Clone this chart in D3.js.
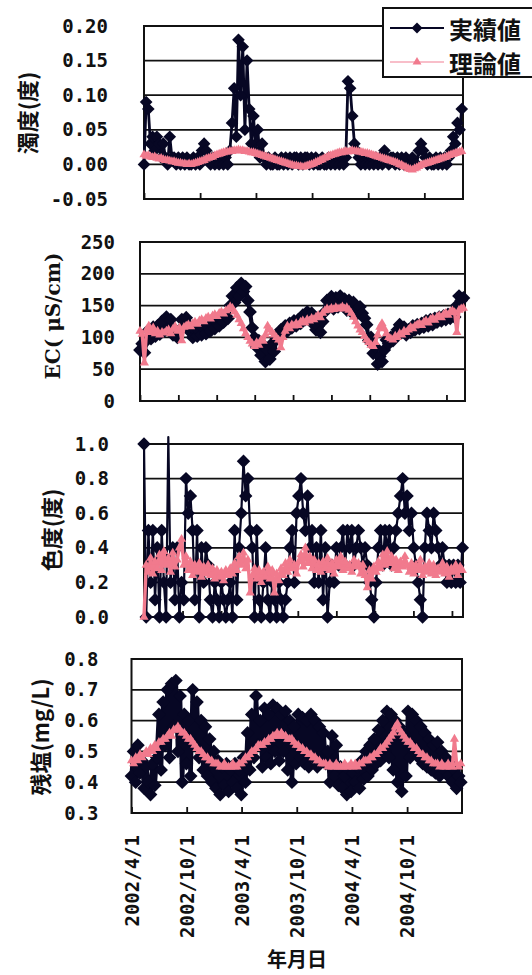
<!DOCTYPE html>
<html>
<head>
<meta charset="utf-8">
<script src="https://cdn.jsdelivr.net/npm/d3@7"></script>
<style>
  body { margin: 0; background: #fff; }
  svg { display: block; }
</style>
</head>
<body>
<svg id="chart" width="532" height="975"></svg>
<script>
// ---- data: weekly samples starting 2002/4/1 ----
const startLabel = "2002/4/1";
const stepDays = 7;

const turbidityActual = [
  0.00, 0.09, 0.08, 0.03, 0.04, 0.02, 0.04, 0.03, 0.01, 0.03, 0.01, 0.00, 0.04, 0.01, 0.01, 0.00,
  0.01, 0.00, 0.01, 0.00, 0.01, 0.00, 0.00, 0.01, 0.00, 0.01, 0.00, 0.02, 0.03, 0.02, 0.01, 0.00,
  0.01, 0.00, 0.01, 0.00, 0.01, 0.00, 0.01, 0.00, 0.02,
  0.06, 0.11, 0.04, 0.18, 0.10, 0.17, 0.05, 0.15, 0.08, 0.03, 0.07, 0.02, 0.05, 0.01, 0.03,
  0.01, 0.00, 0.01, 0.00, 0.00, 0.01, 0.00, 0.00, 0.01, 0.00, 0.01, 0.00, 0.01, 0.00, 0.01,
  0.01, 0.00, 0.01, 0.00, 0.01, 0.01, 0.00, 0.01, 0.00, 0.01, 0.00, 0.00, 0.01, 0.00,
  0.00, 0.01, 0.00, 0.01, 0.00, 0.01, 0.00, 0.01, 0.00, 0.01,
  0.12, 0.11, 0.07, 0.03,
  0.02, 0.01, 0.00, 0.01, 0.00, 0.01, 0.00, 0.01, 0.00, 0.01, 0.00, 0.01, 0.00,
  0.02, 0.01, 0.00, 0.01, 0.01, 0.00, 0.01, 0.00, 0.01, 0.00, 0.01, 0.00, 0.00, 0.01, 0.00, 0.00,
  0.02, 0.03, 0.02, 0.01, 0.00, 0.01, 0.00, 0.00, 0.01, 0.00, 0.01, 0.00, 0.01, 0.00, 0.01, 0.02,
  0.04, 0.03, 0.06, 0.05, 0.08
];
const turbidityTheory = [
  0.014, 0.012, 0.013, 0.011, 0.010, 0.011, 0.009, 0.008, 0.009, 0.007, 0.006,
  0.006, 0.005, 0.004, 0.004, 0.003, 0.002, 0.002, 0.001, 0.001, 0.000,
  0.001, 0.000, 0.001, 0.002, 0.003, 0.004, 0.005, 0.006, 0.008, 0.009,
  0.010, 0.011, 0.013, 0.014, 0.015, 0.016, 0.017, 0.018, 0.018, 0.019,
  0.019, 0.020, 0.020, 0.021, 0.020, 0.020, 0.019, 0.019, 0.018, 0.017,
  0.017, 0.016, 0.015, 0.014, 0.013, 0.012, 0.011, 0.010, 0.009, 0.008,
  0.007, 0.006, 0.005, 0.004, 0.003, 0.002, 0.001, 0.000, -0.001, -0.002,
  -0.002, -0.003, -0.003, -0.004, -0.003, -0.002, -0.001, 0.000, 0.001, 0.003,
  0.004, 0.006, 0.007, 0.009, 0.010, 0.012, 0.013, 0.014, 0.015, 0.016,
  0.017, 0.017, 0.018, 0.019, 0.018, 0.019, 0.020, 0.019, 0.019, 0.018,
  0.018, 0.017, 0.016, 0.016, 0.015, 0.014, 0.013, 0.012, 0.011, 0.010,
  0.009, 0.008, 0.007, 0.006, 0.005, 0.004, 0.003, 0.002, 0.000, -0.001,
  -0.003, -0.004, -0.006, -0.007, -0.008, -0.006, -0.005, -0.003, -0.001, 0.000,
  0.001, 0.002, 0.003, 0.004, 0.005, 0.006, 0.007, 0.008, 0.009, 0.010,
  0.011, 0.013, 0.014, 0.015, 0.016, 0.017, 0.018, 0.019
];

const ecActual = [
  80, 90, 76, 95,
  112, 98, 116, 102, 118, 105,
  125, 110, 132, 115, 128,
  104, 112, 100, 110,
  128, 118, 131, 120,
  108, 100, 112, 102, 110, 104, 114, 106,
  116, 110, 120, 114, 124, 118, 128, 124, 134, 130,
  150, 165, 155, 178, 165, 185, 172, 180, 158,
  140, 115, 100, 85, 95, 72, 88, 62,
  80, 66, 90, 78, 98,
  104, 112, 106, 118, 110, 122, 115, 126, 118, 128, 122,
  135, 128, 140, 132, 138,
  120, 112, 118, 108, 125,
  140, 158, 150, 164, 145, 162, 148, 165, 150, 160, 143, 158, 140, 155, 135,
  145, 148, 138, 130,
  120, 95, 100, 75, 85, 58, 70, 62,
  80, 96, 90, 100, 95, 104,
  112, 120, 108, 116, 104, 112, 108, 118, 112, 120, 114, 122,
  116, 126, 118, 128, 120, 130, 124, 132, 126, 134, 128, 136, 130, 138, 132,
  150, 165, 158, 162
];
const ecTheory = [
  110, 105, 60, 112, 118, 108, 115, 106, 110, 104, 108,
  107, 110, 112, 106, 113, 117, 110, 115, 95, 116,
  118, 120, 117, 122, 124, 121, 126, 128, 125, 130,
  132, 129, 134, 136, 133, 138, 140, 137, 142, 144,
  148, 146, 140, 135, 128,
  122, 114, 106, 100, 94, 90, 86, 92, 88, 96, 94, 104, 118, 112, 108,
  104, 100, 96, 84, 100, 110, 118, 114, 120, 118,
  122, 119, 124, 126, 123, 128, 126, 130, 128, 132,
  135, 131, 138, 142, 145, 143, 146, 144, 147, 145,
  146, 148, 145, 147, 143, 138, 132, 125, 118, 112,
  108, 102, 96, 92, 88, 86, 92, 104, 116, 122,
  114, 106, 100, 98, 96, 102, 100, 106, 104, 110,
  108, 112, 116, 114, 118, 120, 122, 119, 124, 126,
  123, 128, 130, 127, 132, 134, 131, 136, 138, 135,
  140, 142, 139, 108, 143, 145, 146
];

const colorActual = [
  1.0, 0.0, 0.5, 0.2, 0.5, 0.1, 0.4, 0.0, 0.5, 0.2, 0.0,
  1.04, 0.2,
  0.4, 0.1, 0.4, 0.0, 0.2, 0.1, 0.8, 0.6, 0.7, 0.5,
  0.1, 0.5, 0.0, 0.4, 0.2, 0.4, 0.3, 0.1, 0.0, 0.2,
  0.1, 0.0, 0.2, 0.1, 0.0, 0.1, 0.2, 0.0,
  0.5, 0.1, 0.4, 0.6, 0.9, 0.7, 0.8, 0.5, 0.4,
  0.0, 0.5, 0.1, 0.0, 0.2, 0.4, 0.1, 0.0, 0.2, 0.1, 0.0, 0.2, 0.1, 0.0, 0.1, 0.2,
  0.4, 0.5, 0.2, 0.6, 0.7, 0.8, 0.6, 0.5, 0.7, 0.4, 0.5, 0.2, 0.4, 0.2,
  0.5, 0.1, 0.4, 0.0, 0.2, 0.3, 0.2, 0.4, 0.3, 0.4,
  0.5, 0.3, 0.5, 0.4, 0.5, 0.3, 0.4, 0.5, 0.4, 0.3,
  0.4, 0.3, 0.2, 0.1, 0.0, 0.2, 0.4, 0.5, 0.3, 0.5,
  0.4, 0.5, 0.3, 0.4, 0.5, 0.6, 0.7, 0.8, 0.6, 0.7,
  0.5, 0.6, 0.4, 0.3, 0.2, 0.1, 0.0, 0.4, 0.6, 0.5,
  0.4, 0.6, 0.5, 0.4, 0.3, 0.4, 0.3, 0.2, 0.3, 0.2,
  0.3, 0.2, 0.3, 0.2, 0.4
];
const colorTheory = [
  0.00, 0.30, 0.26, 0.34, 0.25, 0.32, 0.28, 0.36, 0.27, 0.38,
  0.30, 0.34, 0.26, 0.37, 0.29, 0.33, 0.40, 0.45, 0.30, 0.35,
  0.27, 0.32, 0.24, 0.30, 0.26, 0.31, 0.23, 0.29, 0.25, 0.30,
  0.24, 0.28, 0.22, 0.27, 0.23, 0.26, 0.21, 0.27, 0.24, 0.28,
  0.25, 0.31, 0.27, 0.35, 0.30, 0.37, 0.28, 0.33, 0.14, 0.24,
  0.28, 0.22, 0.27, 0.20, 0.26, 0.23, 0.29, 0.22, 0.27, 0.14,
  0.25, 0.21, 0.28, 0.24, 0.31, 0.26, 0.33, 0.28, 0.30, 0.25,
  0.32, 0.36, 0.29, 0.40, 0.31, 0.35, 0.28, 0.33, 0.27, 0.31,
  0.26, 0.32, 0.28, 0.34, 0.27, 0.31, 0.25, 0.33, 0.29, 0.35,
  0.27, 0.32, 0.28, 0.30, 0.26, 0.33, 0.29, 0.31, 0.25, 0.30,
  0.24, 0.17, 0.27, 0.22, 0.29, 0.26, 0.32, 0.28, 0.36, 0.30,
  0.38, 0.31, 0.35, 0.28, 0.33, 0.27, 0.32, 0.29, 0.35, 0.30,
  0.26, 0.31, 0.25, 0.30, 0.27, 0.33, 0.24, 0.29, 0.26, 0.31,
  0.25, 0.30, 0.24, 0.28, 0.26, 0.31, 0.25, 0.29, 0.23, 0.28,
  0.26, 0.30, 0.24, 0.29, 0.27
];

const chlorineActual = [
  0.42, 0.50, 0.40, 0.52, 0.43, 0.47, 0.38, 0.45, 0.40, 0.36, 0.46, 0.39, 0.48,
  0.62, 0.44, 0.66, 0.52, 0.70, 0.48, 0.72, 0.58, 0.73, 0.50,
  0.68, 0.40, 0.62, 0.46, 0.60, 0.42, 0.70, 0.52, 0.66, 0.48,
  0.60, 0.44, 0.58, 0.42, 0.54, 0.40, 0.50, 0.38,
  0.47, 0.36, 0.45, 0.39, 0.46, 0.37, 0.44, 0.40, 0.46, 0.38, 0.44, 0.36, 0.48, 0.40,
  0.56, 0.44, 0.62, 0.48, 0.68, 0.52, 0.60, 0.45, 0.64, 0.48,
  0.62, 0.46, 0.65, 0.50, 0.64, 0.47, 0.62, 0.50, 0.63, 0.44,
  0.60, 0.40, 0.58, 0.46, 0.62, 0.48, 0.61, 0.46, 0.60, 0.45,
  0.62, 0.48, 0.60, 0.45, 0.58, 0.47, 0.56, 0.46,
  0.50, 0.40, 0.55, 0.42, 0.52, 0.39, 0.45, 0.38, 0.42, 0.36,
  0.44, 0.37, 0.43, 0.40, 0.45, 0.38, 0.47, 0.41, 0.50, 0.42,
  0.52, 0.44, 0.54, 0.46, 0.57, 0.47, 0.60, 0.50,
  0.63, 0.48, 0.62, 0.44, 0.60, 0.40, 0.58, 0.37, 0.56, 0.42,
  0.63, 0.48, 0.62, 0.50, 0.60, 0.48, 0.58, 0.46, 0.56, 0.45,
  0.54, 0.44, 0.52, 0.43, 0.53, 0.42, 0.50, 0.44, 0.48, 0.42,
  0.46, 0.40, 0.44, 0.38, 0.42, 0.40
];
const chlorineTheory = [
  0.47, 0.46, 0.48, 0.47, 0.49, 0.48, 0.49, 0.50, 0.49, 0.51, 0.50,
  0.52, 0.51, 0.53, 0.53, 0.54, 0.54, 0.55, 0.56, 0.55, 0.57,
  0.57, 0.58, 0.57, 0.56, 0.56, 0.55, 0.54, 0.54, 0.53, 0.52,
  0.51, 0.50, 0.50, 0.49, 0.48, 0.48, 0.47, 0.47, 0.46, 0.46,
  0.46, 0.45, 0.45, 0.46, 0.45, 0.45, 0.45, 0.46, 0.45, 0.45,
  0.46, 0.46, 0.47, 0.48, 0.48, 0.49, 0.50, 0.50, 0.51, 0.52,
  0.52, 0.52, 0.53, 0.53, 0.54, 0.54, 0.55, 0.55, 0.56, 0.55,
  0.56, 0.55, 0.55, 0.54, 0.54, 0.54, 0.53, 0.52, 0.52, 0.51,
  0.51, 0.50, 0.50, 0.49, 0.49, 0.48, 0.48, 0.47, 0.47, 0.46,
  0.46, 0.46, 0.45, 0.46, 0.45, 0.45, 0.46, 0.45, 0.45, 0.45,
  0.46, 0.45, 0.45, 0.46, 0.45, 0.46, 0.45, 0.46, 0.46, 0.47,
  0.47, 0.47, 0.48, 0.48, 0.49, 0.49, 0.50, 0.51, 0.51, 0.52,
  0.53, 0.54, 0.55, 0.56, 0.58, 0.59, 0.57, 0.56, 0.55, 0.54,
  0.53, 0.53, 0.52, 0.51, 0.51, 0.50, 0.49, 0.49, 0.48, 0.48,
  0.47, 0.47, 0.46, 0.46, 0.46, 0.45, 0.46, 0.45, 0.45, 0.46,
  0.45, 0.45, 0.54, 0.46, 0.45, 0.46
];

// value-axis ticks
const turbidityTicks = [-0.05, 0.00, 0.05, 0.10, 0.15, 0.20];
const ecTicks = [0, 50, 100, 150, 200, 250];
const colorTicks = [0.0, 0.2, 0.4, 0.6, 0.8, 1.0];
const chlorineTicks = [0.3, 0.4, 0.5, 0.6, 0.7, 0.8];

// date-axis ticks
const halfYearTicks = ["2002/4/1", "2002/10/1", "2003/4/1", "2003/10/1", "2004/4/1", "2004/10/1"];
const fourMonthTicks = ["2002/4/1", "2002/8/1", "2002/12/1", "2003/4/1", "2003/8/1",
                        "2003/12/1", "2004/4/1", "2004/8/1", "2004/12/1"];

const seriesNames = ["実績値", "理論値"];
const xTitle = "年月日";

// ---- drawing ----
const parseDate = d3.timeParse("%Y/%m/%d");
const startDate = parseDate(startLabel);

const ACTUAL = "#070724";
const THEORY = "#f17a8d";
const INK = "#111";
const monoFont = "'DejaVu Sans Mono', monospace";
const cjkFont = "'Noto Sans CJK JP', sans-serif";

const svg = d3.select("#chart");

const panels = [
  { actual: turbidityActual, theory: turbidityTheory, yTicks: turbidityTicks,
    fmt: v => v.toFixed(2), title: "濁度(度)", titleFont: cjkFont, titleSize: 22, titleWeight: 700,
    left: 144, right: 463, top: 26, bottom: 199, end: "2005/2/4", xTicks: halfYearTicks,
    titleX: 26, titleY: 113, gap: 36, dates: false, lineW: 2.8, markSize: 80 },
  { actual: ecActual, theory: ecTheory, yTicks: ecTicks,
    fmt: v => String(v), title: "EC( μS/cm)", titleFont: "'DejaVu Serif', serif", titleSize: 20, titleWeight: 700,
    left: 140, right: 465, top: 242, bottom: 401, end: "2005/1/29", xTicks: fourMonthTicks,
    titleX: 53, titleY: 316, gap: 25, dates: false, lineW: 4.2, markSize: 95 },
  { actual: colorActual, theory: colorTheory, yTicks: colorTicks,
    fmt: v => v.toFixed(1), title: "色度(度)", titleFont: cjkFont, titleSize: 22, titleWeight: 700,
    left: 144, right: 463, top: 444, bottom: 617, end: "2005/1/5", xTicks: fourMonthTicks,
    titleX: 50, titleY: 530, gap: 35, dates: false, lineW: 2.2, markSize: 90 },
  { actual: chlorineActual, theory: chlorineTheory, yTicks: chlorineTicks,
    fmt: v => v.toFixed(1), title: "残塩(mg/L)", titleFont: cjkFont, titleSize: 22, titleWeight: 700,
    left: 131.5, right: 462, top: 659, bottom: 813, end: "2005/4/1", xTicks: halfYearTicks,
    titleX: 39, titleY: 737, gap: 33, dates: true, lineW: 4.4, markSize: 95 }
];

const triangle = d3.symbol(d3.symbolTriangle, 36);

panels.forEach(p => {
  const g = svg.append("g");
  const x = d3.scaleTime().domain([startDate, parseDate(p.end)]).range([p.left, p.right]);
  const [yMin, yMax] = d3.extent(p.yTicks);
  const y = d3.scaleLinear().domain([yMin, yMax]).range([p.bottom, p.top]);

  // horizontal gridlines
  g.append("g").selectAll("line").data(p.yTicks).join("line")
    .attr("x1", p.left).attr("x2", p.right)
    .attr("y1", d => y(d)).attr("y2", d => y(d))
    .attr("stroke", INK).attr("stroke-width", 1.8);

  // plot frame
  g.append("rect")
    .attr("x", p.left).attr("y", p.top)
    .attr("width", p.right - p.left).attr("height", p.bottom - p.top)
    .attr("fill", "none").attr("stroke", INK).attr("stroke-width", 2);

  // value axis
  g.append("g").attr("transform", `translate(${p.left},0)`)
    .call(d3.axisLeft(y).tickValues(p.yTicks).tickFormat(p.fmt).tickSize(0).tickPadding(p.gap))
    .call(a => a.select(".domain").remove())
    .selectAll("text")
    .attr("font-family", monoFont).attr("font-weight", 700).attr("font-size", 19)
    .attr("fill", INK);

  // date axis (ticks point into the plot)
  const tickDates = p.xTicks.map(parseDate);
  const xAxis = g.append("g").attr("transform", `translate(0,${p.bottom})`)
    .call(d3.axisBottom(x).tickValues(tickDates).tickSizeInner(-6).tickSizeOuter(0)
      .tickFormat((d, i) => p.dates ? p.xTicks[i] : ""));
  xAxis.select(".domain").remove();
  xAxis.selectAll("line").attr("stroke", INK).attr("stroke-width", 1.8);
  if (p.dates) {
    xAxis.selectAll("text")
      .attr("transform", "rotate(-90)")
      .attr("text-anchor", "end")
      .attr("x", -22).attr("y", 0).attr("dy", "0.35em")
      .attr("font-family", monoFont).attr("font-weight", 700).attr("font-size", 19)
      .attr("fill", INK);
  }

  // axis title
  svg.append("text")
    .attr("transform", `translate(${p.titleX},${p.titleY}) rotate(-90)`)
    .attr("text-anchor", "middle").attr("dominant-baseline", "central")
    .attr("font-family", p.titleFont).attr("font-weight", p.titleWeight)
    .attr("font-size", p.titleSize).attr("fill", INK)
    .text(p.title);

  const toPoints = arr => arr.map((v, i) => ({ date: d3.timeDay.offset(startDate, i * stepDays), v }));
  const line = d3.line().x(d => x(d.date)).y(d => y(d.v));
  const diamond = d3.symbol(d3.symbolSquare, p.markSize);

  // measured series
  const act = toPoints(p.actual);
  g.append("path").datum(act).attr("d", line)
    .attr("fill", "none").attr("stroke", ACTUAL).attr("stroke-width", p.lineW)
    .attr("stroke-linejoin", "round");
  g.append("g").selectAll("path").data(act.filter(d => d.v <= yMax)).join("path")
    .attr("transform", d => `translate(${x(d.date)},${y(d.v)}) rotate(45)`)
    .attr("d", diamond).attr("fill", ACTUAL);

  // theoretical series
  const th = toPoints(p.theory);
  g.append("path").datum(th).attr("d", line)
    .attr("fill", "none").attr("stroke", THEORY).attr("stroke-width", 3.4)
    .attr("stroke-linejoin", "round");
  g.append("g").selectAll("path").data(th).join("path")
    .attr("transform", d => `translate(${x(d.date)},${y(d.v)})`)
    .attr("d", triangle).attr("fill", THEORY);
});

// x-axis title
svg.append("text")
  .attr("x", 297).attr("y", 958)
  .attr("text-anchor", "middle").attr("dominant-baseline", "central")
  .attr("font-family", cjkFont).attr("font-weight", 700).attr("font-size", 20)
  .attr("fill", INK).text(xTitle);

// legend
const legend = svg.append("g");
legend.append("rect")
  .attr("x", 383).attr("y", 8).attr("width", 160).attr("height", 69)
  .attr("fill", "#fff").attr("stroke", INK).attr("stroke-width", 2);
const rows = legend.selectAll("g.row").data(seriesNames).join("g")
  .attr("class", "row")
  .attr("transform", (d, i) => `translate(0,${i === 0 ? 28 : 62})`);
rows.append("line")
  .attr("x1", 390).attr("x2", 444).attr("y1", 0).attr("y2", 0)
  .attr("stroke", (d, i) => i === 0 ? ACTUAL : "#f6a9b7")
  .attr("stroke-width", (d, i) => i === 0 ? 2 : 1.5);
rows.append("path")
  .attr("transform", (d, i) => i === 0 ? "translate(417,0) rotate(45)" : "translate(417,0)")
  .attr("d", (d, i) => i === 0 ? d3.symbol(d3.symbolSquare, 60)() : d3.symbol(d3.symbolTriangle, 34)())
  .attr("fill", (d, i) => i === 0 ? ACTUAL : THEORY);
rows.append("text")
  .attr("x", 449).attr("y", 0).attr("dominant-baseline", "central")
  .attr("font-family", cjkFont).attr("font-weight", 700).attr("font-size", 24)
  .attr("fill", INK).text(d => d);
</script>
</body>
</html>
